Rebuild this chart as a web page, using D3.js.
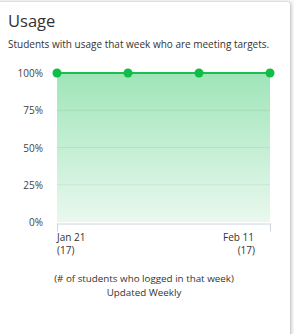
<!DOCTYPE html>
<html>
<head>
<meta charset="utf-8">
<script src="https://cdn.jsdelivr.net/npm/d3@7"></script>
<style>
	body { margin: 0; background: #f7f7f7; font-family: "Open Sans", sans-serif; }
	svg { display: block; }
</style>
</head>
<body>
<div class="container"></div>
<script>
var weeks = ['Jan 21', 'Jan 28', 'Feb 4', 'Feb 11'],
	values = [100, 100, 100, 100],
	counts = [17, 17, 17, 17],
	yTicks = [0, 25, 50, 75, 100],
	WIDTH = 294,
	HEIGHT = 334,
	LEFT = 57,
	RIGHT = 270,
	TOP = 73,
	BOTTOM = 222;

function translate(x, y) {
	return 'translate(' + x + ',' + y + ')';
}

var svg = d3.select('.container').append('svg')
	.attr('width', WIDTH)
	.attr('height', HEIGHT);

var defs = svg.append('defs');
var filter = defs.append('filter').attr('id', 'shadow').attr('x', '-10%').attr('y', '-10%').attr('width', '120%').attr('height', '120%');
filter.append('feDropShadow').attr('dx', 1).attr('dy', 0).attr('stdDeviation', 1.5).attr('flood-color', '#000').attr('flood-opacity', 0.25);

var grad = defs.append('linearGradient').attr('id', 'fillGrad')
	.attr('x1', 0).attr('y1', 0).attr('x2', 0).attr('y2', 1);
grad.append('stop').attr('offset', '0%').attr('stop-color', '#9fe5b9');
grad.append('stop').attr('offset', '100%').attr('stop-color', '#e9f8ee');

// card
svg.append('rect')
	.attr('x', -10).attr('y', 2)
	.attr('width', 300).attr('height', 340)
	.attr('rx', 4)
	.attr('fill', '#fff')
	.attr('filter', 'url(#shadow)');

svg.append('text')
	.attr('x', 8).attr('y', 27)
	.attr('font-size', 16.5)
	.attr('fill', '#333')
	.text('Usage');

svg.append('text')
	.attr('x', 8).attr('y', 47.5)
	.attr('font-size', 10)
	.attr('fill', '#333')
	.text('Students with usage that week who are meeting targets.');

var xScale = d3.scalePoint()
	.domain(weeks)
	.range([LEFT, RIGHT]);

var yScale = d3.scaleLinear()
	.domain([0, 100])
	.range([BOTTOM, TOP]);

var g = svg.append('g');

// area
g.append('path')
	.datum(values)
	.attr('fill', 'url(#fillGrad)')
	.attr('d', d3.area()
		.x(function(d, i) { return xScale(weeks[i]); })
		.y0(yScale(0))
		.y1(function(d) { return yScale(d); }));

// gridlines
g.selectAll('.grid')
	.data(yTicks.filter(function(t) { return t > 0 && t < 100; }))
	.enter().append('line')
	.attr('x1', LEFT).attr('x2', RIGHT)
	.attr('y1', function(d) { return yScale(d); })
	.attr('y2', function(d) { return yScale(d); })
	.attr('stroke', '#000')
	.attr('stroke-opacity', 0.06)
	.attr('stroke-width', 1);

// y labels
g.selectAll('.ylab')
	.data(yTicks)
	.enter().append('text')
	.attr('x', 43)
	.attr('y', function(d) { return yScale(d) + 4; })
	.attr('text-anchor', 'end')
	.attr('font-size', 10)
	.attr('fill', '#444')
	.text(function(d) { return d + '%'; });

// x axis
var xAxis = d3.axisBottom(xScale)
	.tickValues([weeks[0], weeks[weeks.length - 1]])
	.tickSize(8)
	.tickSizeOuter(0)
	.tickFormat('');
var axisG = g.append('g')
	.attr('transform', translate(0, BOTTOM + 1.5))
	.call(xAxis);
axisG.select('.domain').attr('stroke', '#ccd2e0');
axisG.selectAll('.tick line').attr('stroke', '#ccd2e0');

// x labels, first and last only
var ends = [0, weeks.length - 1];
ends.forEach(function(i) {
	var first = i === 0;
	var x = first ? xScale(weeks[i]) : xScale(weeks[i]) - 16;
	var anchor = first ? 'start' : 'end';
	g.append('text')
		.attr('x', x).attr('y', 241)
		.attr('text-anchor', anchor)
		.attr('font-size', 10)
		.attr('fill', '#333')
		.text(weeks[i]);
	g.append('text')
		.attr('x', first ? x : x + 1).attr('y', 254)
		.attr('text-anchor', anchor)
		.attr('font-size', 10)
		.attr('fill', '#333')
		.text('(' + counts[i] + ')');
});

// line
g.append('path')
	.datum(values)
	.attr('fill', 'none')
	.attr('stroke', '#1dbf4c')
	.attr('stroke-width', 2)
	.attr('d', d3.line()
		.x(function(d, i) { return xScale(weeks[i]); })
		.y(function(d) { return yScale(d); }));

g.selectAll('.dot')
	.data(values)
	.enter().append('circle')
	.attr('cx', function(d, i) { return xScale(weeks[i]); })
	.attr('cy', function(d) { return yScale(d); })
	.attr('r', 4.5)
	.attr('fill', '#10bd46');

svg.append('text')
	.attr('x', 144).attr('y', 282)
	.attr('text-anchor', 'middle')
	.attr('font-size', 9.8)
	.attr('fill', '#333')
	.text('(# of students who logged in that week)');

svg.append('text')
	.attr('x', 144).attr('y', 296)
	.attr('text-anchor', 'middle')
	.attr('font-size', 9.8)
	.attr('fill', '#333')
	.text('Updated Weekly');
</script>
</body>
</html>
